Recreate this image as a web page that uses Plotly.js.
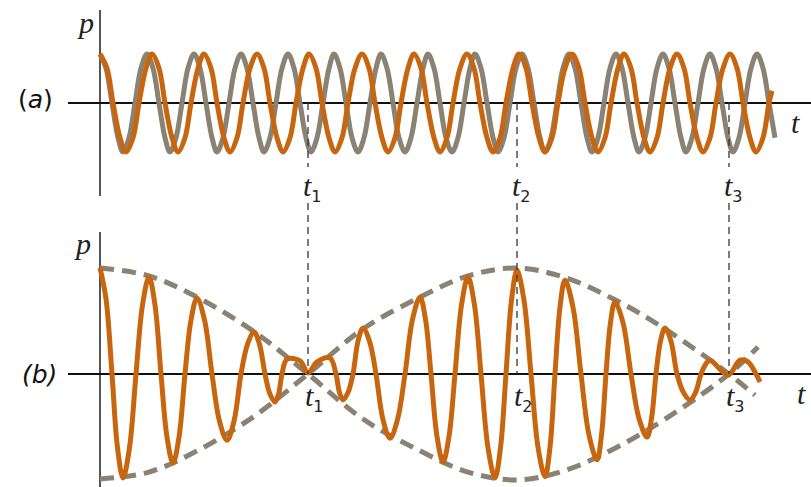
<!DOCTYPE html>
<html>
<head>
<meta charset="utf-8">
<script src="https://cdn.plot.ly/plotly-3.0.1.min.js"></script>
<style>
  html, body { margin: 0; padding: 0; background: #fff; }
  #chart { width: 811px; height: 487px; }
</style>
</head>
<body>
<div id="chart"></div>
<script>
// (a) two tones, one period per row (time in arbitrary units)
const orangeT = [
  0, 7, 13, 20, 26, 33, 39, 46,
  52, 59, 65, 72, 78, 85, 91, 98,
  104, 111, 117, 124, 130, 137, 143, 150,
  157, 164, 170, 177, 183, 190, 196, 203,
  209, 216, 222, 229, 235, 242, 248, 255,
  262, 269, 275, 282, 288, 295, 301, 308,
  314, 321, 327, 334, 340, 347, 353, 360,
  367, 374, 380, 387, 393, 400, 406, 413,
  419, 426, 432, 439, 445, 452, 458, 465,
  472, 479, 485, 492, 498, 505, 511, 518,
  524, 531, 537, 544, 550, 557, 563, 570,
  577, 584, 590, 597, 603, 610, 616, 623,
  630, 637, 643, 650, 656, 663, 669, 672];
const orangeP = [
  1, .71, 0, -.71, -1, -.71, 0, .71,
  1, .71, 0, -.71, -1, -.71, 0, .71,
  1, .71, 0, -.71, -1, -.71, 0, .71,
  1, .71, 0, -.71, -1, -.71, 0, .71,
  1, .71, 0, -.71, -1, -.71, 0, .71,
  1, .71, 0, -.71, -1, -.71, 0, .71,
  1, .71, 0, -.71, -1, -.71, 0, .71,
  1, .71, 0, -.71, -1, -.71, 0, .71,
  1, .71, 0, -.71, -1, -.71, 0, .71,
  1, .71, 0, -.71, -1, -.71, 0, .71,
  1, .71, 0, -.71, -1, -.71, 0, .71,
  1, .71, 0, -.71, -1, -.71, 0, .71,
  1, .71, 0, -.71, -1, -.71, 0, .25];

const grayT = [
  0, 6, 12, 18, 23, 29, 35, 41,
  47, 53, 59, 65, 70, 76, 82, 88,
  94, 100, 106, 112, 117, 123, 129, 135,
  141, 147, 153, 159, 164, 170, 176, 182,
  188, 194, 200, 206, 211, 217, 223, 229,
  234, 240, 246, 252, 258, 264, 270, 276,
  281, 287, 293, 299, 305, 311, 317, 323,
  328, 334, 340, 346, 352, 358, 364, 370,
  375, 381, 387, 393, 398, 404, 410, 416,
  422, 428, 434, 440, 445, 451, 457, 463,
  469, 475, 481, 487, 492, 498, 504, 510,
  516, 522, 528, 534, 539, 545, 551, 557,
  563, 569, 575, 581, 586, 592, 598, 604,
  610, 616, 622, 628, 633, 639, 645, 651,
  657, 663, 669, 675];
const grayP = [
  1, .71, 0, -.71, -1, -.71, 0, .71,
  1, .71, 0, -.71, -1, -.71, 0, .71,
  1, .71, 0, -.71, -1, -.71, 0, .71,
  1, .71, 0, -.71, -1, -.71, 0, .71,
  1, .71, 0, -.71, -1, -.71, 0, .71,
  1, .71, 0, -.71, -1, -.71, 0, .71,
  1, .71, 0, -.71, -1, -.71, 0, .71,
  1, .71, 0, -.71, -1, -.71, 0, .71,
  1, .71, 0, -.71, -1, -.71, 0, .71,
  1, .71, 0, -.71, -1, -.71, 0, .71,
  1, .71, 0, -.71, -1, -.71, 0, .71,
  1, .71, 0, -.71, -1, -.71, 0, .71,
  1, .71, 0, -.71, -1, -.71, 0, .71,
  1, .71, 0, -.71, -1, -.71, 0, .71,
  1, .71, 0, -.71];

// (b) the sum
const sumT = [
  0, 6, 12, 17.5, 23, 29.5, 36, 42.5,
  49, 55, 61, 67, 73, 79, 85, 91,
  97, 104.5, 112, 119.5, 127, 134, 141, 147.5,
  154, 159.5, 165, 170, 175, 178.5, 182,
  187, 200, 208, 217, 230, 236, 239.5, 243, 248, 253, 258,
  263, 269.5, 276, 283, 290, 297.5, 305, 312.5,
  320, 325.5, 331, 337, 343, 349, 355, 361.5,
  368, 374.5, 381, 388, 395, 400.5, 406, 411.5,
  417, 424, 431, 438, 445, 450, 455, 460,
  465, 473, 481, 489, 497, 501.5, 506, 510.5,
  515, 523, 531, 539, 547, 551.5, 556, 560.5,
  565, 571, 577, 583.5, 590, 595.5, 601, 605.5,
  610, 628, 640, 648, 656, 660];
const sumP = [
  2.0, 1.42, 0, -1.39, -1.96, -1.39, 0, 1.3,
  1.83, 1.3, 0, -1.19, -1.68, -1.19, 0, 1.02,
  1.43, 1.02, 0, -0.89, -1.25, -0.89, 0, 0.56,
  0.79, 0.56, 0, -0.38, -0.53, -0.38, 0,
  0.28, 0.25, 0.02, 0.23, 0.3, 0, -0.35, -0.49, -0.35, 0, 0.62,
  0.87, 0.62, 0, -0.86, -1.21, -0.86, 0, 1.03,
  1.45, 1.03, 0, -1.18, -1.66, -1.18, 0, 1.3,
  1.83, 1.3, 0, -1.39, -1.96, -1.39, 0, 1.39,
  1.96, 1.39, 0, -1.38, -1.94, -1.38, 0, 1.26,
  1.77, 1.26, 0, -1.15, -1.62, -1.15, 0, 0.97,
  1.36, 0.97, 0, -0.84, -1.19, -0.84, 0, 0.62,
  0.87, 0.62, 0, -0.35, -0.49, -0.35, 0, 0.18,
  0.26, -0.02, 0.26, 0.23, 0, -0.15];

// envelope (dashed)
const envUpT = [0, 49, 97, 154, 208, 263, 320, 368, 417, 465, 515, 565, 629, 658];
const envUpP = [2.0, 1.85, 1.45, 0.8, 0, -0.85, -1.45, -1.85, -2.0, -1.82, -1.4, -0.85, 0, 0.51];
const envLoT = [0, 49, 97, 154, 208, 263, 320, 368, 417, 465, 515, 565, 629, 655];
const envLoP = [-1.98, -1.85, -1.45, -0.8, 0, 0.85, 1.45, 1.85, 2.0, 1.82, 1.4, 0.85, 0, -0.4];

// marked instants
const tMarks = [208, 417, 629];
const tNames = ['1', '2', '3'];

const ORANGE = '#c8650f';
const GRAY = '#8a8272';
const W = 811, H = 487;
const px = x => x / W;
const py = y => 1 - y / H;

const wave = (x, y, color, xa, ya, dash) => ({
  x: x, y: y, xaxis: xa, yaxis: ya, mode: 'lines', hoverinfo: 'skip',
  line: { color: color, width: 5, shape: 'spline', smoothing: 1, dash: dash || 'solid' }
});

const traces = [
  wave(grayT, grayP, GRAY, 'x', 'y'),
  wave(orangeT, orangeP, ORANGE, 'x', 'y'),
  wave(envUpT, envUpP, GRAY, 'x2', 'y2', '14px,8px'),
  wave(envLoT, envLoP, GRAY, 'x2', 'y2', '14px,8px'),
  wave(sumT, sumP, ORANGE, 'x2', 'y2')
];

const xa = {
  domain: [px(68), 1], range: [-32, 711],
  showgrid: false, showticklabels: false, ticks: '', showline: false,
  zeroline: true, zerolinecolor: '#555', zerolinewidth: 2
};
const ya = (dom, rng) => ({
  domain: dom, range: rng,
  showgrid: false, showticklabels: false, ticks: '', showline: false,
  zeroline: true, zerolinecolor: '#111', zerolinewidth: 1.5
});

const serif = () => ({ family: 'Liberation Serif', size: 30, color: '#222' });
const sans = () => ({ family: 'DejaVu Sans', size: 25, color: '#111' });
const note = (x, y, text, font, xref) => ({
  xref: xref || 'paper', yref: 'paper', x: x, y: y, text: text, showarrow: false,
  xanchor: 'center', yanchor: 'middle', font: font
});

const shapes = [];
const annotations = [];
tMarks.forEach((t, i) => {
  const dl = { color: '#333', width: 1.3, dash: '7px,5px' };
  shapes.push({ type: 'line', xref: 'x', yref: 'paper', x0: t, x1: t, y0: py(103), y1: py(167), line: dl });
  shapes.push({ type: 'line', xref: 'x', yref: 'paper', x0: t, x1: t, y0: py(203), y1: py(374), line: dl });
  const lab = '<i>t</i><sub><span style="font-family:DejaVu Sans;font-size:16px">' + tNames[i] + '</span></sub>';
  annotations.push(Object.assign(note(t, py(188), lab, serif(), 'x'), { xshift: 4 }));
  annotations.push(Object.assign(note(t, py(397), lab, serif(), 'x'), { xshift: 6 }));
});

annotations.push(
  note(px(85), py(22), '<i>p</i>', serif()),
  note(px(82), py(243), '<i>p</i>', serif()),
  note(px(795), py(122), '<i>t</i>', serif()),
  note(px(801), py(393), '<i>t</i>', serif()),
  note(px(35), py(100), '(<i>a</i>)', sans()),
  note(px(39), py(374), '<i>(b)</i>', sans())
);

const layout = {
  width: W, height: H,
  margin: { l: 0, r: 0, t: 0, b: 0 },
  paper_bgcolor: '#fff', plot_bgcolor: '#fff',
  showlegend: false,
  xaxis: Object.assign({ anchor: 'y' }, xa),
  xaxis2: Object.assign({ anchor: 'y2' }, xa),
  yaxis: Object.assign({ anchor: 'x' }, ya([py(196), py(10)], [-1.9, 1.9])),
  yaxis2: Object.assign({ anchor: 'x2' }, ya([0, py(232)], [-2.132, 2.679])),
  shapes: shapes,
  annotations: annotations
};

Plotly.newPlot('chart', traces, layout, { displayModeBar: false, staticPlot: true });
</script>
</body>
</html>
